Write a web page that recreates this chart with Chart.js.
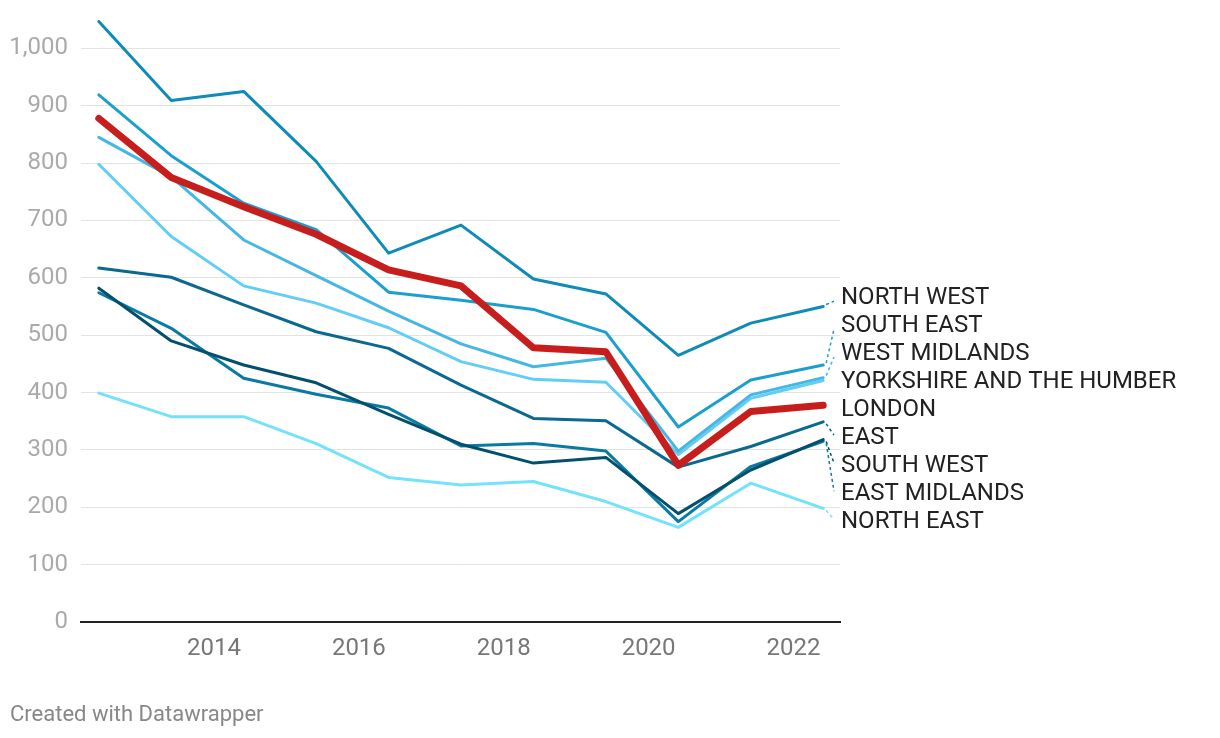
<!DOCTYPE html>
<html>
<head>
<meta charset="utf-8">
<script src="https://cdn.jsdelivr.net/npm/chart.js@4.4.1/dist/chart.umd.min.js"></script>
<style>
  body { margin: 0; background: #fff; }
  #wrap { position: relative; width: 1220px; height: 738px; }
  #credit {
    position: absolute; left: 10px; top: 701px;
    font-family: Roboto, sans-serif; font-size: 22px; color: #888;
  }
</style>
</head>
<body>
<div id="wrap">
  <canvas id="chart"></canvas>
  <div id="credit">Created with Datawrapper</div>
</div>
<script>
// x positions of the yearly points (datawrapper plots them mid-year-ish)
const periods = [2012.41, 2013.41, 2014.41, 2015.41, 2016.41, 2017.41, 2018.41, 2019.41, 2020.41, 2021.41, 2022.41];
const xTicks = [2014, 2016, 2018, 2020, 2022];
const yTicks = [0, 100, 200, 300, 400, 500, 600, 700, 800, 900, 1000];

const regions = ["LONDON", "NORTH WEST", "SOUTH EAST", "WEST MIDLANDS", "YORKSHIRE AND THE HUMBER", "EAST", "SOUTH WEST", "EAST MIDLANDS", "NORTH EAST"];

const london = [878, 775, 724, 676, 614, 586, 478, 471, 273, 367, 378];
const northWest = [1047, 909, 925, 803, 643, 692, 598, 572, 465, 521, 550];
const southEast = [919, 813, 730, 684, 575, 561, 545, 505, 340, 422, 448];
const westMidlands = [845, 776, 666, 604, 542, 485, 445, 460, 298, 396, 426];
const yorkshire = [798, 672, 586, 556, 513, 454, 423, 418, 292, 390, 421];
const east = [617, 601, 553, 506, 477, 413, 355, 351, 270, 306, 349];
const southWest = [582, 490, 448, 417, 362, 310, 277, 287, 189, 265, 318];
const eastMidlands = [574, 512, 425, 397, 373, 307, 311, 298, 175, 271, 315];
const northEast = [399, 358, 358, 311, 252, 239, 245, 210, 165, 242, 198];

const seriesValues = [london, northWest, southEast, westMidlands, yorkshire, east, southWest, eastMidlands, northEast];
const colors = ["#c71e1d", "#0f8bb8", "#1d9fcd", "#46b7e3", "#62cdf6", "#0b6890", "#03506e", "#0b7aa2", "#74e2fb"];

const datasets = regions.map((name, i) => ({
  label: name,
  data: seriesValues[i].map((v, j) => ({ x: periods[j], y: v })),
  borderColor: colors[i],
  backgroundColor: colors[i],
  borderWidth: i === 0 ? 7 : 3,
  pointRadius: 0,
  tension: 0,
  borderJoinStyle: "round",
  borderCapStyle: "round",
  order: i === 0 ? 0 : 1,
  clip: false,
}));

// end labels, pushed apart so they don't overlap
const endLabels = {
  id: "endLabels",
  afterDatasetsDraw(chart) {
    const ctx = chart.ctx;
    const gap = 28;
    let items = chart.data.datasets.map((ds, i) => {
      const meta = chart.getDatasetMeta(i);
      const last = meta.data[meta.data.length - 1];
      return { text: ds.label, color: ds.borderColor, px: last.x, py: last.y, y: last.y };
    });
    items.sort((a, b) => a.py - b.py);

    let clusters = items.map((it) => ({ items: [it] }));
    let merged = true;
    while (merged) {
      merged = false;
      clusters.forEach((c) => {
        const mean = c.items.reduce((s, it) => s + it.py, 0) / c.items.length;
        c.top = mean - ((c.items.length - 1) * gap) / 2;
      });
      for (let k = 1; k < clusters.length; k++) {
        const prev = clusters[k - 1];
        if (prev.top + prev.items.length * gap > clusters[k].top) {
          prev.items = prev.items.concat(clusters[k].items);
          clusters.splice(k, 1);
          merged = true;
          break;
        }
      }
    }
    clusters.forEach((c) => c.items.forEach((it, n) => (it.y = c.top + n * gap + 5)));

    ctx.save();
    ctx.font = "24px Roboto";
    ctx.textBaseline = "middle";
    ctx.textAlign = "left";
    const labelX = chart.chartArea.right + 1;
    items.forEach((it) => {
      if (Math.abs(it.y - it.py) > 6) {
        ctx.strokeStyle = it.color;
        ctx.lineWidth = 1.5;
        ctx.setLineDash([3, 3]);
        ctx.beginPath();
        ctx.moveTo(it.px + 3, it.py + (it.y > it.py ? 2 : -2));
        ctx.lineTo(labelX - 7, it.y + (it.y > it.py ? -3 : 3));
        ctx.stroke();
      }
      ctx.setLineDash([]);
      ctx.fillStyle = "#222";
      ctx.fillText(it.text, labelX, it.y);
    });
    ctx.restore();
  },
};

const config = {
  type: "line",
  data: { datasets: datasets },
  options: {
    responsive: true,
    maintainAspectRatio: false,
    animation: false,
    layout: { padding: { top: 14, right: 380, bottom: 76, left: 0 } },
    plugins: {
      legend: { display: false },
      tooltip: { enabled: false },
    },
    scales: {
      x: {
        type: "linear",
        min: 2012.164,
        max: 2022.642,
        afterBuildTicks: (scale) => { scale.ticks = xTicks.map((v) => ({ value: v })); },
        afterFit: (scale) => { scale.height = 40; scale.paddingLeft = 0; scale.paddingRight = 0; },
        grid: { display: false, drawTicks: false },
        border: { display: true, color: "#222", width: 2 },
        ticks: {
          color: "#777",
          font: { family: "Roboto", size: 24 },
          padding: 13,
          maxRotation: 0,
          callback: (v) => String(v),
        },
      },
      y: {
        min: 0,
        max: 1060,
        afterBuildTicks: (scale) => { scale.ticks = yTicks.map((v) => ({ value: v })); },
        afterFit: (scale) => { scale.width = 81; scale.paddingTop = 0; scale.paddingBottom = 0; },
        grid: { color: "#e3e3e3", lineWidth: 1, drawTicks: false },
        border: { display: false },
        ticks: {
          color: "#aaa",
          font: { family: "Roboto", size: 24 },
          padding: 13,
          callback: (v) => v.toLocaleString("en-US"),
        },
      },
    },
  },
  plugins: [endLabels],
};

new Chart(document.getElementById("chart").getContext("2d"), config);
</script>
</body>
</html>
